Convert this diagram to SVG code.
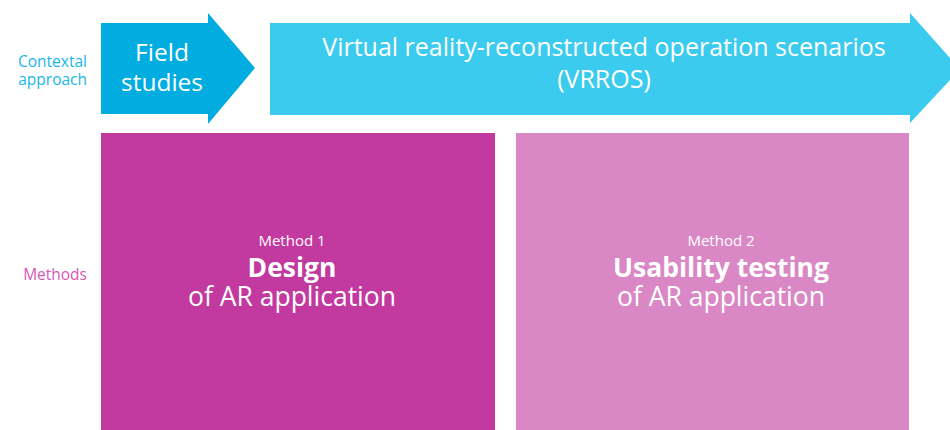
<svg xmlns="http://www.w3.org/2000/svg" width="950" height="430" viewBox="0 0 950 430">
<style>
text{font-family:"Open Sans","Noto Sans","Liberation Sans",sans-serif;text-anchor:middle;fill:#ffffff}
.lbl{font-size:15.5px;text-anchor:end}
.ctx{fill:#1ab6e8}
.met{fill:#d857b6}
.fs{font-size:24.5px}
.vr{font-size:25px}
.big{font-size:26.5px}
.sm{font-size:15px}
.b{font-weight:bold}
</style>
<rect width="950" height="430" fill="#ffffff"/>
<g id="labels">
<text class="lbl ctx" x="87" y="67">Contextal</text>
<text class="lbl ctx" x="87" y="85">approach</text>
<text class="lbl met" x="87" y="280">Methods</text>
</g>
<g id="field-studies">
<polygon points="101,23 208,23 208,13 255,68 208,124 208,114 101,114" fill="#00ace0"/>
<text class="fs" x="162" y="61">Field</text>
<text class="fs" x="162" y="91">studies</text>
</g>
<g id="vrros">
<polygon points="270,23 910,23 910,13 950,58 950,80 910,123 910,115 270,115" fill="#3bcbee"/>
<text class="vr" x="604" y="56">Virtual reality-reconstructed operation scenarios</text>
<text class="vr" x="604" y="88">(VRROS)</text>
</g>
<g id="method1">
<rect x="101" y="133" width="394" height="297" fill="#c2399f"/>
<text class="sm" x="292" y="246">Method 1</text>
<text class="big b" x="292" y="277">Design</text>
<text class="big" x="292" y="306">of AR application</text>
</g>
<g id="method2">
<rect x="516" y="133" width="393" height="297" fill="#da88c5"/>
<text class="sm" x="721" y="246">Method 2</text>
<text class="big b" x="721" y="277">Usability testing</text>
<text class="big" x="721" y="306">of AR application</text>
</g>
<g id="connectors"/>
</svg>
